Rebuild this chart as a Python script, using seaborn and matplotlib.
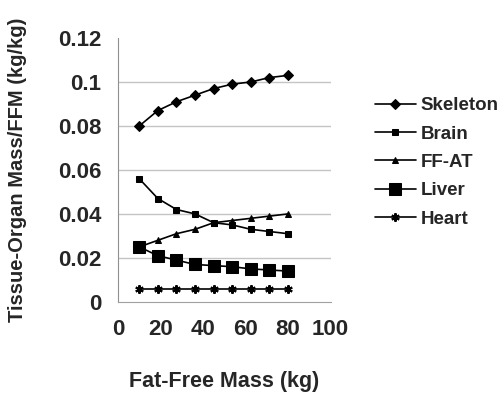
import matplotlib
matplotlib.use("Agg")
import matplotlib.pyplot as plt
import seaborn as sns
import pandas as pd

sns.set_style("white")
plt.rcParams['font.family'] = ['Liberation Sans', 'DejaVu Sans']
plt.rcParams['font.weight'] = 'bold'

ffm = [10, 18.75, 27.5, 36.25, 45, 53.75, 62.5, 71.25, 80]
skeleton = [0.080, 0.087, 0.091, 0.094, 0.097, 0.099, 0.100, 0.102, 0.103]
brain = [0.056, 0.047, 0.042, 0.040, 0.036, 0.035, 0.033, 0.032, 0.031]
ffat = [0.025, 0.028, 0.031, 0.033, 0.036, 0.037, 0.038, 0.039, 0.040]
liver = [0.025, 0.021, 0.019, 0.017, 0.0165, 0.016, 0.015, 0.0145, 0.014]
heart = [0.006, 0.006, 0.006, 0.006, 0.006, 0.006, 0.006, 0.006, 0.006]

series = {"Skeleton": skeleton, "Brain": brain, "FF-AT": ffat, "Liver": liver, "Heart": heart}
styles = {
    "Skeleton": dict(marker="D", markersize=5),
    "Brain": dict(marker="s", markersize=4.5),
    "FF-AT": dict(marker="^", markersize=5),
    "Liver": dict(marker="s", markersize=8),
    "Heart": dict(marker=(6, 2, 0), markersize=6, markeredgewidth=1.5),
}

fig = plt.figure(figsize=(5.03, 3.94), dpi=100)
ax = fig.add_axes([0.2346, 0.2338, 0.4225, 0.6698])

for name, vals in series.items():
    df = pd.DataFrame({"x": ffm, "y": vals})
    sns.lineplot(data=df, x="x", y="y", ax=ax, color="black", linewidth=1.2,
                 label=name, markeredgecolor="black", markerfacecolor="black",
                 **styles[name])

ax.set_xlim(0, 100)
ax.set_ylim(0, 0.12)
ax.set_xticks([0, 20, 40, 60, 80, 100])
ax.set_yticks([0, 0.02, 0.04, 0.06, 0.08, 0.1, 0.12])
ax.set_yticklabels(["0", "0.02", "0.04", "0.06", "0.08", "0.1", "0.12"])
for yv in [0.02, 0.04, 0.06, 0.08, 0.1]:
    ax.axhline(yv, color="#c4c4c4", linewidth=1.0, zorder=0)

for s in ["top", "right"]:
    ax.spines[s].set_visible(False)
ax.spines["left"].set_color("#909090")
ax.spines["bottom"].set_color("#a0a0a0")
ax.tick_params(axis="both", labelsize=16, length=4, width=1, color="#909090",
               direction="out", pad=8)
for lab in ax.get_xticklabels() + ax.get_yticklabels():
    lab.set_fontweight("bold")

ax.set_xlabel("Fat-Free Mass (kg)", fontsize=15.5, fontweight="bold", labelpad=23)
ax.set_ylabel("Tissue-Organ Mass/FFM (kg/kg)", fontsize=14.5, fontweight="bold", labelpad=22)

leg = ax.legend(loc="center left", bbox_to_anchor=(0.745, 0.588),
                bbox_transform=fig.transFigure, frameon=False,
                fontsize=13.5, handlelength=2.2, handletextpad=0.25,
                labelspacing=0.6, borderpad=0, borderaxespad=0)
for t in leg.get_texts():
    t.set_fontweight("bold")

fig.savefig("out.png", dpi=100)
